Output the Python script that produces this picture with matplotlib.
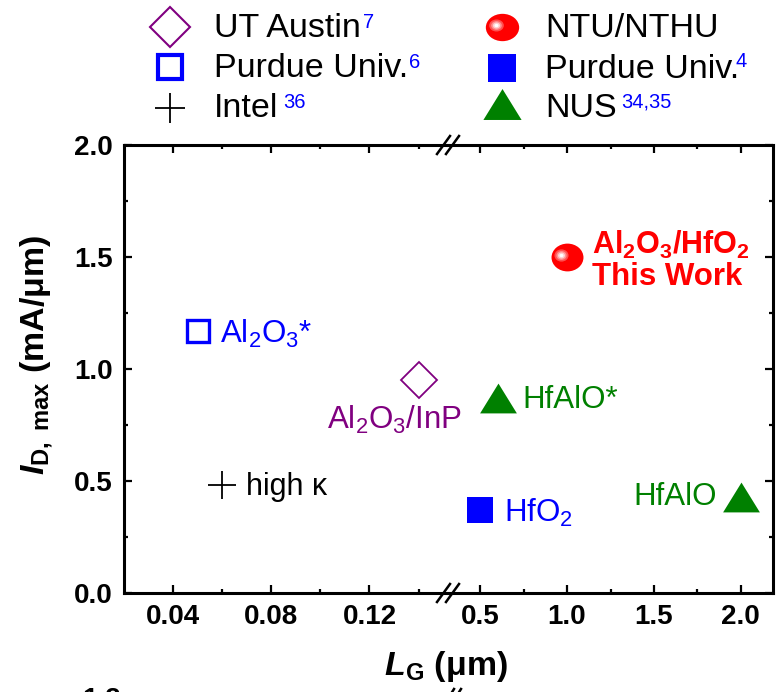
import numpy as np
import matplotlib
matplotlib.use("Agg")
import matplotlib.pyplot as plt
import matplotlib.transforms as mtransforms
from matplotlib.path import Path
from matplotlib.lines import Line2D

plt.rcParams['font.family'] = ['Liberation Sans', 'DejaVu Sans']
plt.rcParams['mathtext.fontset'] = 'custom'
plt.rcParams['mathtext.rm'] = 'Liberation Sans'
plt.rcParams['mathtext.it'] = 'Liberation Sans:italic'
plt.rcParams['mathtext.bf'] = 'Liberation Sans:bold'
plt.rcParams['mathtext.bfit'] = 'Liberation Sans:italic:bold'

# ---------------- data ----------------
# left (short-channel) segment
ut_x, ut_y = [0.14], [0.95]            # UT Austin (open diamond)
pur6_x, pur6_y = [0.05], [1.17]        # Purdue Univ.6 (open square)
intel_x, intel_y = [0.06], [0.48]      # Intel (plus)
# right (long-channel) segment
ntu_x, ntu_y = [1.0], [1.50]           # NTU/NTHU (sphere)
pur4_x, pur4_y = [0.5], [0.37]         # Purdue Univ.4 (filled square)
nus_x, nus_y = [0.6, 2.0], [0.87, 0.43]  # NUS (triangles)

left_xticks = [0.04, 0.08, 0.12]
left_xminor = [0.06, 0.10, 0.14]
right_xticks = [0.5, 1.0, 1.5, 2.0]
right_xminor = [0.75, 1.25, 1.75]
yticks = [0.0, 0.5, 1.0, 1.5, 2.0]
yminor = [0.25, 0.75, 1.25, 1.75]

BLUE = (0, 0, 1)
PURPLE = (0.5, 0, 0.5)
GREEN = (0, 0.5, 0)
RED = (1, 0, 0)

W, H = 779, 692
fig = plt.figure(figsize=(W / 100, H / 100), dpi=100)


def fx(px):
    return px / W


def fy(py):
    return 1 - py / H


L, R, T, B, BRK = 124, 773, 145, 593, 448
ax1 = fig.add_axes([fx(L), fy(B), (BRK - L) / W, (B - T) / H])
ax2 = fig.add_axes([fx(BRK), fy(B), (R - BRK) / W, (B - T) / H], sharey=ax1)

ax1.set_xlim(0.020, 0.152)
ax2.set_xlim(0.315, 2.185)
ax1.set_ylim(0, 2.0)

for ax in (ax1, ax2):
    for s in ax.spines.values():
        s.set_linewidth(2.2)
    ax.tick_params(which='both', direction='in', top=True, bottom=True,
                   width=1.6, labelsize=20, pad=8)
    ax.tick_params(which='major', length=6)
    ax.tick_params(which='minor', length=3)
    ax.patch.set_alpha(0)

ax1.spines['right'].set_visible(False)
ax2.spines['left'].set_visible(False)
ax1.tick_params(which='both', right=False, left=True)
ax2.tick_params(which='both', left=False, right=True, labelleft=False)

ax1.set_xticks(left_xticks)
ax1.set_xticklabels([f"{v:.2f}" for v in left_xticks], fontweight='bold')
ax1.set_xticks(left_xminor, minor=True)
ax2.set_xticks(right_xticks)
ax2.set_xticklabels([f"{v:.1f}" for v in right_xticks], fontweight='bold')
ax2.set_xticks(right_xminor, minor=True)
ax1.set_yticks(yticks)
ax1.set_yticklabels([f"{v:.1f}" for v in yticks], fontweight='bold')
ax1.set_yticks(yminor, minor=True)

# custom marker shapes
tri = Path([(-1, -0.81), (1, -0.81), (0, 0.81), (-1, -0.81)],
           [Path.MOVETO, Path.LINETO, Path.LINETO, Path.CLOSEPOLY])
circ = Path.unit_circle()


def ellipse(aspect):
    return Path(circ.vertices * np.array([1.0, aspect]), circ.codes)


def sphere(ax, x, y, ms, aspect, zorder=5):
    ax.plot(x, y, linestyle='none', marker=ellipse(aspect), ms=ms,
            color=RED, mew=0, zorder=zorder, clip_on=False)
    layers = [(0.44, '#ff5050'), (0.32, '#ff9090'), (0.22, '#ffd0d0'), (0.12, '#ffffff')]
    for frac, col in layers:
        tr = ax.transData + mtransforms.ScaledTranslation(-0.19 * ms / 72, 0.05 * ms / 72,
                                                          fig.dpi_scale_trans)
        ax.plot(x, y, linestyle='none', marker=ellipse(aspect), ms=ms * frac,
                color=col, mew=0, zorder=zorder + 0.1, transform=tr, clip_on=False)


# ---------------- data marks ----------------
ax1.plot(ut_x, ut_y, linestyle='none', marker='D', ms=18.5, mfc='none',
         mec=PURPLE, mew=1.3, zorder=5)
ax1.plot(pur6_x, pur6_y, linestyle='none', marker='s', ms=16.5, mfc='none',
         mec=BLUE, mew=2.4, zorder=5)
ax1.plot(intel_x, intel_y, linestyle='none', marker='+', ms=20, color='black',
         mew=1.3, zorder=5)
sphere(ax2, ntu_x, ntu_y, 23, 0.87)
ax2.plot(pur4_x, pur4_y, linestyle='none', marker='s', ms=18.5, color=BLUE,
         mew=0, zorder=5)
ax2.plot(nus_x, nus_y, linestyle='none', marker=tri, ms=26.5, color=GREEN,
         mew=0, zorder=5)

# ---------------- annotations ----------------
def note(ax, txt, x, y, dx, dy, color, ha='left', size=22.5, weight='normal'):
    ax.annotate(txt, xy=(x, y), xytext=(dx, dy), textcoords='offset pixels',
                ha=ha, va='baseline', color=color, fontsize=size,
                fontweight=weight, annotation_clip=False)


note(ax1, r'Al$_\mathregular{2}$O$_\mathregular{3}$*', pur6_x[0], pur6_y[0], 22, -12, BLUE)
note(ax1, 'high κ', intel_x[0], intel_y[0], 24, -10, 'black', size=22)
note(ax1, r'Al$_\mathregular{2}$O$_\mathregular{3}$/InP', ut_x[0], ut_y[0], -24, -49,
     PURPLE, ha='center')
note(ax2, 'HfAlO*', nus_x[0], nus_y[0], 25, -10, GREEN)
note(ax2, 'HfAlO', nus_x[1], nus_y[1], -24, -8, GREEN, ha='right')
note(ax2, r'HfO$_\mathregular{2}$', pur4_x[0], pur4_y[0], 24, -12, BLUE)
note(ax2, r'Al$_\mathregular{2}$O$_\mathregular{3}$/HfO$_\mathregular{2}$', ntu_x[0], ntu_y[0],
     25, 3, RED, size=22, weight='bold')
note(ax2, 'This Work', ntu_x[0], ntu_y[0], 25, -28, RED, size=22.5, weight='bold')

# ---------------- axis labels ----------------
fig.text(fx(37), fy(355), r'$\mathbfit{I}_{\mathbf{D,\ max}}$ (mA/μm)', rotation=90,
         ha='center', va='center', fontsize=24.5, fontweight='bold')
fig.text(fx(446), fy(675), r'$\mathbfit{L}_{\mathbf{G}}$ (μm)',
         ha='center', va='baseline', fontsize=24.5, fontweight='bold')

# ---------------- axis break marks ----------------
for yb in (T, B):
    for x0 in (437, 446):
        fig.add_artist(Line2D([fx(x0), fx(x0 + 13)], [fy(yb + 9), fy(yb - 9)],
                              color='black', lw=1.8, transform=fig.transFigure))

# ---------------- legend (manual, top) ----------------
lax = fig.add_axes([0, fy(130), 1, 130 / H])
lax.set_xlim(0, W)
lax.set_ylim(130, 0)
lax.axis('off')

LFS = 24.5
SFS = 14.5
col1_mx, col1_tx = 170, 214
col2_mx, col2_tx = 502, 545
rows = [37, 77, 117]
mrows = [27, 67, 107]

lax.plot([col1_mx], [mrows[0]], linestyle='none', marker='D', ms=20, mfc='none',
         mec=PURPLE, mew=1.5)
lax.plot([col1_mx], [mrows[1]], linestyle='none', marker='s', ms=17, mfc='none',
         mec=BLUE, mew=3)
lax.plot([col1_mx], [mrows[2] + 1], linestyle='none', marker='+', ms=21.5,
         color='black', mew=1.3)
sphere(lax, [col2_mx], [mrows[0]], 24, 0.82)
lax.plot([col2_mx], [mrows[1] + 1], linestyle='none', marker='s', ms=19.5,
         color=BLUE, mew=0)
lax.plot([col2_mx], [mrows[2] - 3], linestyle='none', marker=tri, ms=27.5,
         color=GREEN, mew=0)

entries = [
    (col1_tx, rows[0], 'UT Austin', '7', 2, 0),
    (col1_tx, rows[1], 'Purdue Univ.', '6', 1, 0),
    (col1_tx, rows[2], 'Intel', '36', 5, 0),
    (col2_tx, rows[0], 'NTU/NTHU', '', 0, 0),
    (col2_tx, rows[1] + 1, 'Purdue Univ.', '4', -4, 2),
    (col2_tx, rows[2], 'NUS', '34,35', 5, 0),
]
for tx, ty, lab, sup, sdx, sdy in entries:
    t = lax.text(tx, ty, lab, ha='left', va='baseline', fontsize=LFS)
    if sup:
        lax.annotate(sup, xy=(1, 1), xycoords=t, xytext=(sdx, sdy),
                     textcoords='offset pixels', ha='left', va='top',
                     fontsize=SFS, color=BLUE)

# remnant of the next panel at the bottom edge
fig.text(fx(82), fy(687), '1.2', ha='left', va='top', fontsize=20, fontweight='bold')
for x0 in (449, 456):
    fig.add_artist(Line2D([fx(x0), fx(x0 + 5)], [fy(697), fy(689)],
                          color='black', lw=1.8, transform=fig.transFigure))

fig.savefig('out.png', dpi=100)
